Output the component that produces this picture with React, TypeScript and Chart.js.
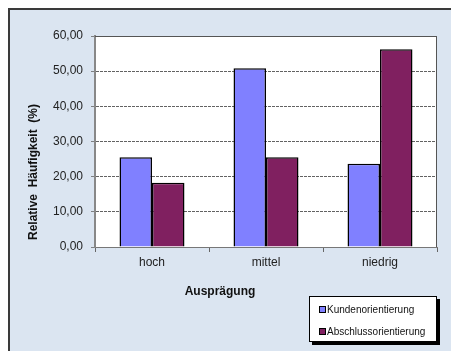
import React, { useEffect, useRef } from "react";
import { Chart, registerables } from "chart.js";

Chart.register(...registerables);

const categories = ["hoch", "mittel", "niedrig"];
const kundenValues = [25.5, 50.8, 23.7];
const abschlussValues = [18.3, 25.5, 56.2];
const seriesNames = ["Kundenorientierung", "Abschlussorientierung"];
const seriesColors = ["#8080ff", "#802060"];
const yTitle = "Relative  Häufigkeit  (%)";
const xTitle = "Ausprägung";

const FONT = "Arial, 'Liberation Sans', sans-serif";

const plotPlugin = {
  id: "plotDecor",
  beforeDraw(chart: any) {
    const { ctx, chartArea: a } = chart;
    ctx.save();
    ctx.fillStyle = "#ffffff";
    ctx.fillRect(a.left, a.top, a.right - a.left, a.bottom - a.top);
    ctx.restore();
  },
  afterDraw(chart: any) {
    const { ctx, chartArea: a } = chart;
    ctx.save();
    ctx.strokeStyle = "#555555";
    ctx.lineWidth = 1;
    ctx.beginPath();
    ctx.moveTo(a.left, a.top + 0.5);
    ctx.lineTo(a.right - 0.5, a.top + 0.5);
    ctx.lineTo(a.right - 0.5, a.bottom);
    ctx.stroke();

    ctx.fillStyle = "#111111";
    ctx.font = `bold 12px ${FONT}`;
    ctx.textAlign = "center";
    ctx.textBaseline = "middle";
    ctx.fillText(xTitle, 210, 282);
    ctx.translate(24, 162);
    ctx.rotate(-Math.PI / 2);
    ctx.fillText(yTitle, 0, 0);
    ctx.restore();
  },
};

export default function App() {
  const canvasRef = useRef<HTMLCanvasElement | null>(null);

  useEffect(() => {
    if (!canvasRef.current) return;
    const chart = new Chart(canvasRef.current, {
      type: "bar",
      data: {
        labels: categories,
        datasets: [
          {
            label: seriesNames[0],
            data: kundenValues,
            backgroundColor: seriesColors[0],
            borderColor: "#000000",
            borderWidth: 1.5,
          },
          {
            label: seriesNames[1],
            data: abschlussValues,
            backgroundColor: seriesColors[1],
            borderColor: "#000000",
            borderWidth: 1.5,
          },
        ],
      },
      options: {
        responsive: false,
        animation: false,
        layout: { padding: { top: 26, right: 22, left: 0, bottom: 0 } },
        datasets: { bar: { barPercentage: 1, categoryPercentage: 0.57 } },
        plugins: {
          legend: { display: false },
          tooltip: { enabled: false },
        },
        scales: {
          x: {
            afterFit: (s: any) => {
              s.height = 104;
            },
            grid: {
              offset: true,
              drawOnChartArea: false,
              drawTicks: true,
              tickLength: 5,
              tickColor: "#666666",
            },
            border: { color: "#777777", width: 1 },
            ticks: {
              color: "#222222",
              font: { family: FONT, size: 12 },
              padding: 3,
              maxRotation: 0,
            },
          },
          y: {
            min: 0,
            max: 60,
            afterFit: (s: any) => {
              s.width = 85;
            },
            grid: {
              color: "#3a3a3a",
              lineWidth: 0.8,
              drawTicks: true,
              tickLength: 4,
              tickColor: "#666666",
            },
            border: { color: "#888888", width: 2, dash: [3, 1] },
            ticks: {
              stepSize: 10,
              color: "#222222",
              font: { family: FONT, size: 12 },
              padding: 8,
              callback: (v: any) => Number(v).toFixed(2).replace(".", ","),
            },
          },
        },
      },
      plugins: [plotPlugin],
    });
    return () => chart.destroy();
  }, []);

  return (
    <div
      style={{
        position: "relative",
        width: 451,
        height: 343,
        boxSizing: "border-box",
        background: "#dbe5f1",
        borderLeft: "2px solid #3a3a3a",
        borderTop: "2px solid #3a3a3a",
        fontFamily: FONT,
      }}
    >
      <style>{`html,body{overflow:hidden}`}</style>
      <canvas
        ref={canvasRef}
        width={449}
        height={341}
        style={{ position: "absolute", left: 0, top: 0, display: "block" }}
      />
      <div
        style={{
          position: "absolute",
          left: 299,
          top: 286,
          width: 128,
          height: 46,
          boxSizing: "border-box",
          background: "#ffffff",
          border: "1px solid #000",
          boxShadow: "3px 3px 0 #000",
          fontSize: 10,
          color: "#111",
        }}
      >
        {seriesNames.map((n, i) => (
          <div
            key={n}
            style={{
              position: "absolute",
              left: 9,
              top: i === 0 ? 5 : 27,
              height: 14,
              display: "flex",
              alignItems: "center",
              whiteSpace: "nowrap",
            }}
          >
            <span
              style={{
                display: "inline-block",
                width: 5,
                height: 5,
                background: seriesColors[i],
                border: "1px solid #000",
                marginRight: 1,
              }}
            />
            {n}
          </div>
        ))}
      </div>
    </div>
  );
}
